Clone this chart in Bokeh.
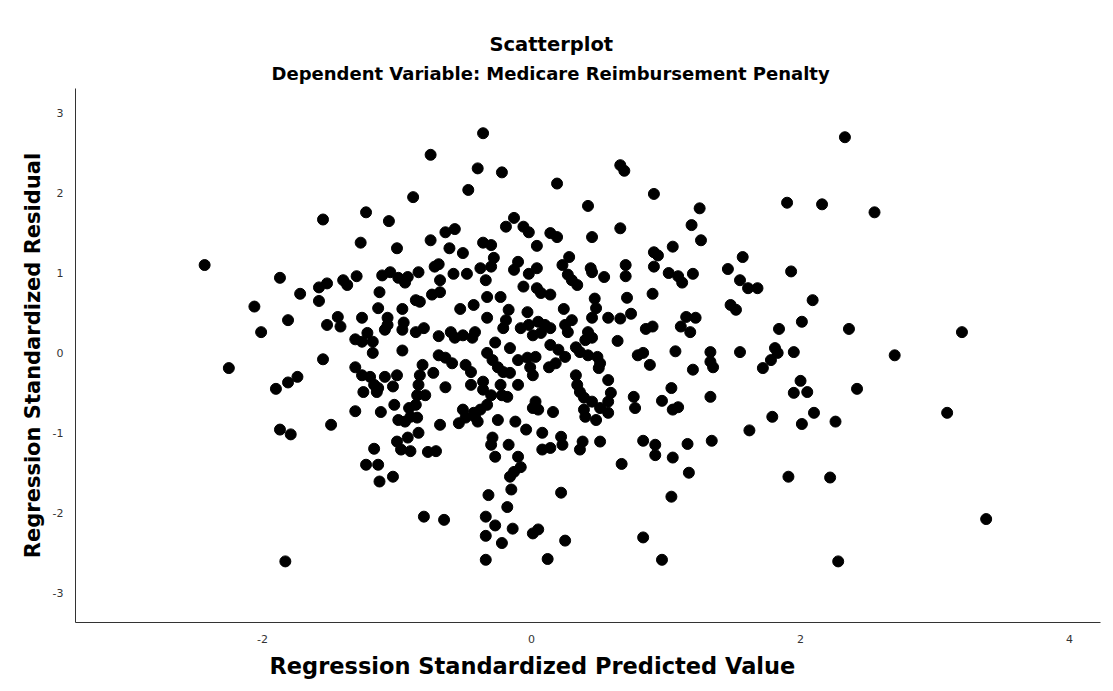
from bokeh.plotting import figure
from bokeh.models import Range1d, FixedTicker, Title, ColumnDataSource, PrintfTickFormatter
from bokeh.embed import file_html
from bokeh.resources import INLINE

# Regression standardized predicted value (x) and standardized residual (y)
pred = [
    -2.43, -2.25, -2.06, -2.01, -1.90, -1.87, -1.87, -1.83, -1.81, -1.81, -1.79, -1.74, -1.72,
    -1.55, -1.58, -1.52, -1.58, -1.40, -1.37, -1.30, -1.27, -1.52, -1.44, -1.42, -1.31, -1.55,
    -1.31, -1.31, -1.49, -1.26,
    -0.75, -0.40, -0.47, -0.88, -1.23, -1.06, -1.00, -0.75, -0.64, -0.57, -0.61, -0.51, -1.11,
    -1.05, -0.99, -0.92, -0.94, -0.84, -0.72, -0.69, -0.68, -0.58, -0.48, -1.13, -0.74, -0.68,
    -0.86, -0.83, -1.14, -0.96, -0.53, -0.43, -1.07, -1.07, -1.09, -0.95, -0.96, -0.86, -0.80,
    -0.69, -0.60, -0.57, -0.51, -1.22, -1.18, -1.26, -1.18, -0.96, -0.69, -0.64, -0.59, -0.49,
    -0.45, -1.26, -1.20, -1.17, -1.25, -1.09, -1.00, -1.03, -1.14, -1.15, -0.81, -0.83, -0.84,
    -0.85, -0.86, -0.79, -0.73, -0.64, -0.51, -0.49, -0.54, -0.43, -1.12, -1.02, -0.91, -0.90,
    -0.99, -0.94, -0.85, -0.68, -0.84, -0.92, -1.00, -0.97, -0.90, -0.77, -0.71, -1.17,
    -1.23, -1.14, -1.13, -1.03, -0.80, -0.65,
    -0.36, -0.22, 0.19, 0.42, -0.13, -0.19, -0.06, -0.02, 0.14, 0.19, 0.45, -0.36, -0.30, 0.04,
    -0.28, -0.30, -0.38, -0.10, -0.13, 0.04, -0.02, 0.28, 0.23, 0.27, 0.30, 0.34, -0.34, -0.06,
    0.04, 0.07, 0.14, -0.33, -0.23,
    -0.17, -0.03, 0.24, -0.33, -0.19, -0.21, -0.08, -0.02, 0.05, 0.10, 0.14, 0.01, 0.07, 0.25,
    0.30, 0.27, -0.42, -0.44, -0.27, -0.16, 0.14, 0.20, 0.25, 0.33, 0.36, 0.42, -0.33, -0.29,
    -0.25, -0.21, -0.16, -0.10, -0.03, 0.03, -0.01, 0.01, 0.13, 0.18, -0.45, -0.36, -0.36, -0.30,
    -0.33, -0.23, -0.22, -0.18, -0.10, -0.38, -0.42, -0.40, -0.25, 0.03, 0.01, 0.05, 0.16, 0.33,
    0.34, 0.36, 0.39, 0.39, 0.40, -0.12, -0.04, 0.08, -0.29, -0.30, -0.17, 0.22, 0.23, 0.38,
    0.36, 0.08, 0.14, -0.27, -0.10,
    -0.08, -0.13, -0.16, -0.32, -0.15, 0.22, -0.18, -0.34, -0.27, -0.14, -0.34, -0.22, 0.01,
    0.05, 0.25, -0.34, 0.12,
    0.66, 0.69, 0.91, 1.25, 1.19, 1.26, 0.66, 1.05, 0.91, 0.94, 0.44, 0.45, 0.54, 0.70, 0.70,
    0.91, 1.02, 1.09, 1.12, 1.20, 0.90, 0.47, 0.71,
    0.48, 0.45, 0.57, 0.66, 0.74, 0.85, 0.90, 1.15, 1.22, 1.11, 1.18, 0.42, 0.40, 0.45, 0.64,
    1.07, 0.79, 0.83, 1.33, 1.33, 1.35, 0.88, 1.20, 0.49, 0.51, 0.50, 0.57, 0.45, 0.59, 0.57,
    0.51, 0.48, 0.57, 0.76, 0.77, 1.04, 0.97, 1.05, 1.09, 1.33, 0.51, 0.83, 0.92, 1.16, 1.34,
    0.92, 1.05,
    0.67, 1.17, 1.04, 0.83, 0.97,
    2.33, 1.90, 2.16, 2.55, 1.57, 1.46, 1.93, 1.55, 1.61, 1.68, 2.09, 1.48, 1.52, 2.01, 1.84,
    2.36, 3.20, 1.55, 1.81, 1.83, 1.78, 1.72, 1.95, 2.70, 2.00, 1.95, 2.05, 2.42, 2.10, 3.09,
    1.79, 2.01, 2.26, 1.62, 1.91, 2.22, 3.38, 2.28,
]
resid = [
    1.10, -0.19, 0.58, 0.26, -0.45, -0.96, 0.94, -2.61, 0.41, -0.37, -1.02, -0.30, 0.74,
    1.67, 0.82, 0.87, 0.65, 0.91, 0.85, 0.96, 1.38, 0.35, 0.45, 0.33, 0.17, -0.08,
    -0.18, -0.73, -0.90, 0.44,
    2.48, 2.31, 2.04, 1.95, 1.76, 1.65, 1.31, 1.41, 1.51, 1.55, 1.31, 1.25, 0.97,
    1.01, 0.94, 0.95, 0.88, 1.01, 1.08, 1.11, 0.91, 0.99, 0.99, 0.76, 0.73, 0.76,
    0.66, 0.64, 0.56, 0.55, 0.55, 0.60, 0.44, 0.35, 0.29, 0.38, 0.29, 0.26, 0.31,
    0.21, 0.26, 0.19, 0.22, 0.25, 0.14, 0.14, 0.00, 0.03, -0.03, -0.06, -0.13, -0.15,
    -0.24, -0.28, -0.30, -0.40, -0.49, -0.30, -0.28, -0.42, -0.44, -0.49, -0.15, -0.28, -0.40,
    -0.53, -0.65, -0.53, -0.25, -0.43, -0.71, -0.81, -0.88, -0.75, -0.74, -0.65, -0.69, -0.80,
    -0.84, -0.86, -0.81, -0.90, -1.00, -1.06, -1.11, -1.21, -1.23, -1.24, -1.23, -1.20,
    -1.40, -1.40, -1.61, -1.55, -2.05, -2.09,
    2.75, 2.26, 2.12, 1.84, 1.69, 1.58, 1.58, 1.51, 1.50, 1.45, 1.45, 1.38, 1.35, 1.34,
    1.19, 1.08, 1.06, 1.14, 1.04, 1.06, 0.99, 1.20, 1.10, 0.98, 0.91, 0.85, 0.91, 0.83,
    0.81, 0.75, 0.73, 0.70, 0.70,
    0.54, 0.51, 0.55, 0.44, 0.41, 0.31, 0.31, 0.35, 0.39, 0.35, 0.31, 0.22, 0.25, 0.35,
    0.41, 0.26, 0.26, 0.19, 0.13, 0.06, 0.10, 0.04, -0.05, 0.07, 0.01, -0.03, 0.00, -0.09,
    -0.18, -0.24, -0.25, -0.09, -0.06, -0.05, -0.18, -0.28, -0.18, -0.13, -0.40, -0.36, -0.46, -0.53,
    -0.65, -0.40, -0.53, -0.55, -0.40, -0.71, -0.80, -0.86, -0.84, -0.61, -0.69, -0.71, -0.74, -0.28,
    -0.40, -0.49, -0.56, -0.71, -0.80, -0.86, -0.96, -1.00, -1.06, -1.15, -1.15, -1.05, -1.15, -1.11,
    -1.21, -1.21, -1.19, -1.30, -1.30,
    -1.43, -1.49, -1.55, -1.78, -1.71, -1.75, -1.93, -2.05, -2.16, -2.20, -2.29, -2.38, -2.26,
    -2.21, -2.35, -2.59, -2.58,
    2.35, 2.28, 1.99, 1.81, 1.60, 1.41, 1.56, 1.33, 1.26, 1.22, 1.06, 1.01, 0.95, 1.10, 0.96,
    1.08, 1.00, 0.96, 0.88, 0.99, 0.74, 0.68, 0.69,
    0.56, 0.44, 0.44, 0.43, 0.49, 0.30, 0.33, 0.45, 0.44, 0.33, 0.26, 0.26, 0.16, 0.19, 0.15,
    0.02, -0.03, 0.00, 0.01, -0.11, -0.18, -0.15, -0.21, -0.05, -0.13, -0.19, -0.34, -0.61, -0.50, -0.61,
    -0.69, -0.84, -0.75, -0.55, -0.69, -0.44, -0.60, -0.71, -0.68, -0.55, -1.11, -1.10, -1.15, -1.14, -1.10,
    -1.28, -1.31,
    -1.39, -1.50, -1.80, -2.31, -2.59,
    2.70, 1.88, 1.86, 1.76, 1.20, 1.05, 1.02, 0.91, 0.81, 0.81, 0.66, 0.60, 0.54, 0.39, 0.30,
    0.30, 0.26, 0.01, 0.06, 0.00, -0.09, -0.19, 0.01, -0.03, -0.35, -0.50, -0.49, -0.45, -0.75, -0.75,
    -0.80, -0.89, -0.86, -0.97, -1.55, -1.56, -2.08, -2.61,
]

x_ticks = [-2, 0, 2, 4]
y_ticks = [-3, -2, -1, 0, 1, 2, 3]

FONT = "DejaVu Sans"

src = ColumnDataSource(data=dict(x=pred[:len(resid)], y=resid[:len(pred)]))

p = figure(width=1105, height=683, output_backend="svg", toolbar_location=None,
           x_range=Range1d(-3.39, 4.23), y_range=Range1d(-3.375, 3.31),
           min_border_left=75, min_border_top=88, min_border_bottom=60, min_border_right=5)
p.outline_line_color = None
p.grid.visible = False
p.background_fill_color = "white"
p.border_fill_color = "white"

p.scatter("x", "y", source=src, size=11, fill_color="black", line_color="black")

p.title.text = "Scatterplot"
p.title.align = "left"
p.title.offset = 414
p.title.standoff = 0
p.title.text_font = FONT
p.title.text_font_size = "19.5px"
p.title.text_font_style = "bold"
p.title.text_color = "#000000"
p.add_layout(Title(text="Dependent Variable: Medicare Reimbursement Penalty", align="left",
                   offset=196, text_font=FONT, text_font_size="18px", text_font_style="bold",
                   text_color="#000000"), "above")

p.add_layout(Title(text="Regression Standardized Predicted Value", align="left", offset=194,
                   text_font=FONT, text_font_size="22.5px", text_font_style="bold",
                   text_color="#000000"), "below")

p.xaxis.ticker = FixedTicker(ticks=x_ticks)
p.yaxis.ticker = FixedTicker(ticks=y_ticks)
p.xaxis.formatter = PrintfTickFormatter(format="%d")
p.yaxis.formatter = PrintfTickFormatter(format="%d")
p.yaxis.axis_label = "Regression Standardized Residual"
p.yaxis.axis_label_text_font = FONT
p.yaxis.axis_label_text_font_size = "21px"
p.yaxis.axis_label_text_font_style = "bold"
p.yaxis.axis_label_text_color = "#000000"
for ax in (p.xaxis, p.yaxis):
    ax.major_label_text_font = FONT
    ax.major_label_text_font_size = "11px"
    ax.major_label_text_color = "#333333"
    ax.axis_line_color = "#333333"
    ax.major_tick_line_color = None
    ax.minor_tick_line_color = None
    ax.major_label_standoff = 6

open("out.html", "w").write(file_html(p, INLINE))
